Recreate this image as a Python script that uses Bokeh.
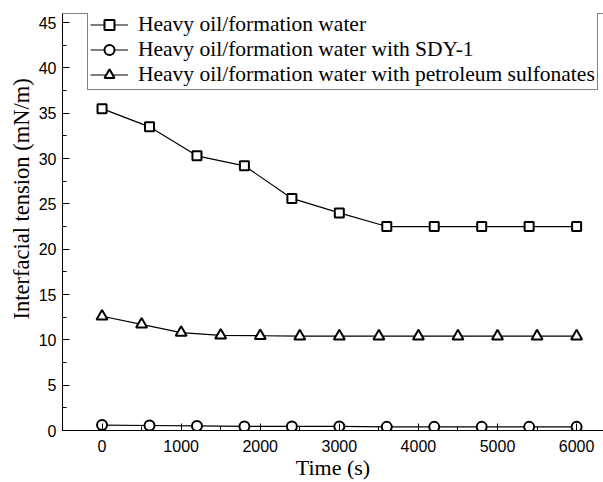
from bokeh.plotting import figure
from bokeh.models import (Range1d, SingleIntervalTicker, Legend,
                          LegendItem, Span, Title)
from bokeh.embed import file_html
from bokeh.resources import INLINE

# ---- data ----
t_sq = [0, 600, 1200, 1800, 2400, 3000, 3600, 4200, 4800, 5400, 6000]
ift_water = [35.5, 33.5, 30.3, 29.2, 25.6, 24.0, 22.5, 22.5, 22.5, 22.5, 22.5]

t_ci = [0, 600, 1200, 1800, 2400, 3000, 3600, 4200, 4800, 5400, 6000]
ift_sdy = [0.6, 0.55, 0.5, 0.45, 0.45, 0.45, 0.4, 0.4, 0.4, 0.4, 0.4]

t_tr = [0, 500, 1000, 1500, 2000, 2500, 3000, 3500, 4000, 4500, 5000, 5500, 6000]
ift_ps = [12.6, 11.7, 10.8, 10.5, 10.45, 10.4, 10.4, 10.4, 10.4, 10.4, 10.4, 10.4, 10.4]

labels = ["Heavy oil/formation water",
          "Heavy oil/formation water with SDY-1",
          "Heavy oil/formation water with petroleum sulfonates"]

p = figure(width=603, height=482, output_backend="svg", toolbar_location=None,
           x_range=Range1d(-500, 6340), y_range=Range1d(0, 46),
           min_border_left=62, min_border_right=0, min_border_top=13, min_border_bottom=50)
p.outline_line_color = None
p.grid.visible = False
p.background_fill_color = "white"

lw = 1.2
r1l = p.line(t_sq, ift_water, line_color="black", line_width=lw)
r1m = p.scatter(t_sq, ift_water, marker="square", size=9, fill_color="white",
                line_color="black", line_width=2)
r2l = p.line(t_ci, ift_sdy, line_color="black", line_width=lw)
r2m = p.scatter(t_ci, ift_sdy, marker="circle", size=10, fill_color="white",
                line_color="black", line_width=2)
r3l = p.line(t_tr, ift_ps, line_color="black", line_width=lw)
r3m = p.scatter(t_tr, ift_ps, marker="triangle", size=11, fill_color="white",
                line_color="black", line_width=2)

p.add_layout(Span(location=46, dimension="width", line_color="black", line_width=1))

for ax in (p.xaxis[0], p.yaxis[0]):
    ax.axis_line_color = "black"
    ax.axis_line_width = 1
    ax.major_tick_in = 7
    ax.major_tick_out = 0
    ax.minor_tick_in = 4
    ax.minor_tick_out = 0
    ax.major_tick_line_color = "black"
    ax.minor_tick_line_color = "black"
    ax.major_label_text_font = "Liberation Sans"
    ax.major_label_text_font_size = "16px"
    ax.major_label_text_color = "black"

p.xaxis.ticker = SingleIntervalTicker(interval=1000, num_minor_ticks=2)
p.yaxis.ticker = SingleIntervalTicker(interval=5, num_minor_ticks=2)
p.xaxis.major_label_standoff = 9
p.yaxis.major_label_standoff = 6

p.xaxis.axis_label = "Time (s)"
p.xaxis.axis_label_text_font = "Liberation Serif"
p.xaxis.axis_label_text_font_style = "normal"
p.xaxis.axis_label_text_font_size = "22px"
p.xaxis.axis_label_text_color = "black"
p.xaxis.axis_label_standoff = 0

ytitle = Title(text="Interfacial tension (mN/m)", align="left", offset=111,
               text_font="Liberation Serif", text_font_style="normal",
               text_font_size="22.5px", text_color="black", standoff=3)
p.add_layout(ytitle, "left")

legend = Legend(items=[LegendItem(label=labels[0], renderers=[r1l, r1m]),
                       LegendItem(label=labels[1], renderers=[r2l, r2m]),
                       LegendItem(label=labels[2], renderers=[r3l, r3m])],
                location=(25, 340), padding=2, spacing=0, margin=0,
                glyph_width=38, glyph_height=25, label_height=25, label_standoff=10,
                label_text_font="Liberation Serif", label_text_font_size="21.5px",
                label_text_color="black", border_line_color="black", border_line_width=1,
                background_fill_alpha=1.0)
p.add_layout(legend)

open("out.html", "w").write(file_html(p, INLINE))
